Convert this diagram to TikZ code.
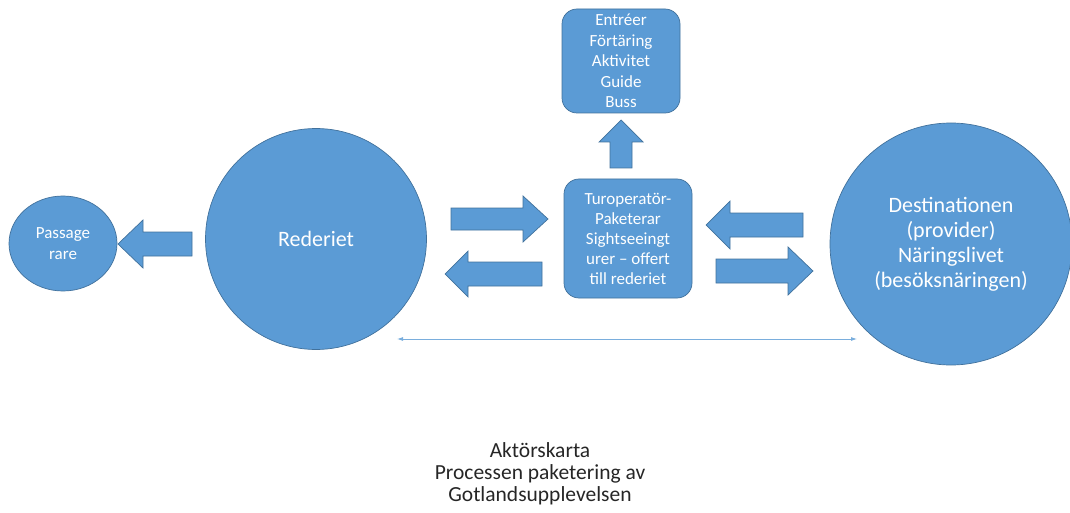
\documentclass[tikz,border=0pt]{standalone}
\usepackage{fontspec}
\setmainfont{Carlito}
\usetikzlibrary{arrows.meta}
\usetikzlibrary{positioning}
\usetikzlibrary{shapes.geometric}
\definecolor{officeblue}{HTML}{5B9BD5}
\definecolor{officeedge}{HTML}{41719C}
\definecolor{thinblue}{HTML}{7AAEDD}

\begin{document}
\begin{tikzpicture}[x=1pt,y=-1pt,>=Stealth,
	actor/.style={circle,fill=officeblue,draw=officeedge,line width=0.7pt,text=white,align=center,inner sep=0pt},
	box/.style={rectangle,rounded corners=15pt,fill=officeblue,draw=officeedge,line width=0.7pt,text=white,align=center,inner sep=0pt},
	blockarrow/.style={fill=officeblue,draw=officeedge,line width=0.7pt,line join=miter}]
			\useasboundingbox (0,0) rectangle (1070,513);
			% actors
			\node[actor,ellipse,minimum width=108pt,minimum height=95pt,font=\fontsize{17}{21}\selectfont] (passagerare) at (63,243.5) {Passage\\rare};
			\node[actor,minimum size=221pt,font=\fontsize{22}{25}\selectfont] (rederiet) at (316,239) {Rederiet};
			\node[actor,minimum size=242pt,font=\fontsize{22}{25}\selectfont] (destination) at (951,244) {Destinationen\\(provider)\\Näringslivet\\(besöksnäringen)};
			\node[box,minimum width=128pt,minimum height=119pt,font=\fontsize{17}{20}\selectfont] (turop) at (628,238.5) {Turoperatör-\\Paketerar\\Sightseeingt\\urer – offert\\till rederiet};
			\node[box,minimum width=118pt,minimum height=104pt,font=\fontsize{17}{20.5}\selectfont] (tjanster) at (621,61) {Entréer\\Förtäring\\Aktivitet\\Guide\\Buss};
			% block arrows
			\draw[blockarrow] (192,232)--(143,232)--(143,220)--(118,244)--(143,268)--(143,256)--(192,256)--cycle;
			\draw[blockarrow] (451,208)--(523,208)--(523,196)--(548,219)--(523,242)--(523,230)--(451,230)--cycle;
			\draw[blockarrow] (542,262)--(468,262)--(468,251)--(445,274)--(468,297)--(468,286)--(542,286)--cycle;
			\draw[blockarrow] (803,213)--(730,213)--(730,201)--(706,225)--(730,249)--(730,237)--(803,237)--cycle;
			\draw[blockarrow] (716,259)--(788,259)--(788,247)--(813,271)--(788,295)--(788,283)--(716,283)--cycle;
			\draw[blockarrow] (610,168)--(610,142)--(599,142)--(621,120)--(643,142)--(632,142)--(632,168)--cycle;
			% thin link
			\coordinate (linkl) at (397,339);
			\coordinate (linkr) at (857,339);
			\draw[<->,thinblue,line width=0.8pt,>={Latex[length=6pt,width=4pt]}] (linkl)--(linkr);
			\node[font=\fontsize{21.5}{22}\selectfont,align=center,text=black!85] (caption) at (540,473.5) {Aktörskarta\\Processen paketering av\\Gotlandsupplevelsen};
		\end{tikzpicture}
\end{document}
